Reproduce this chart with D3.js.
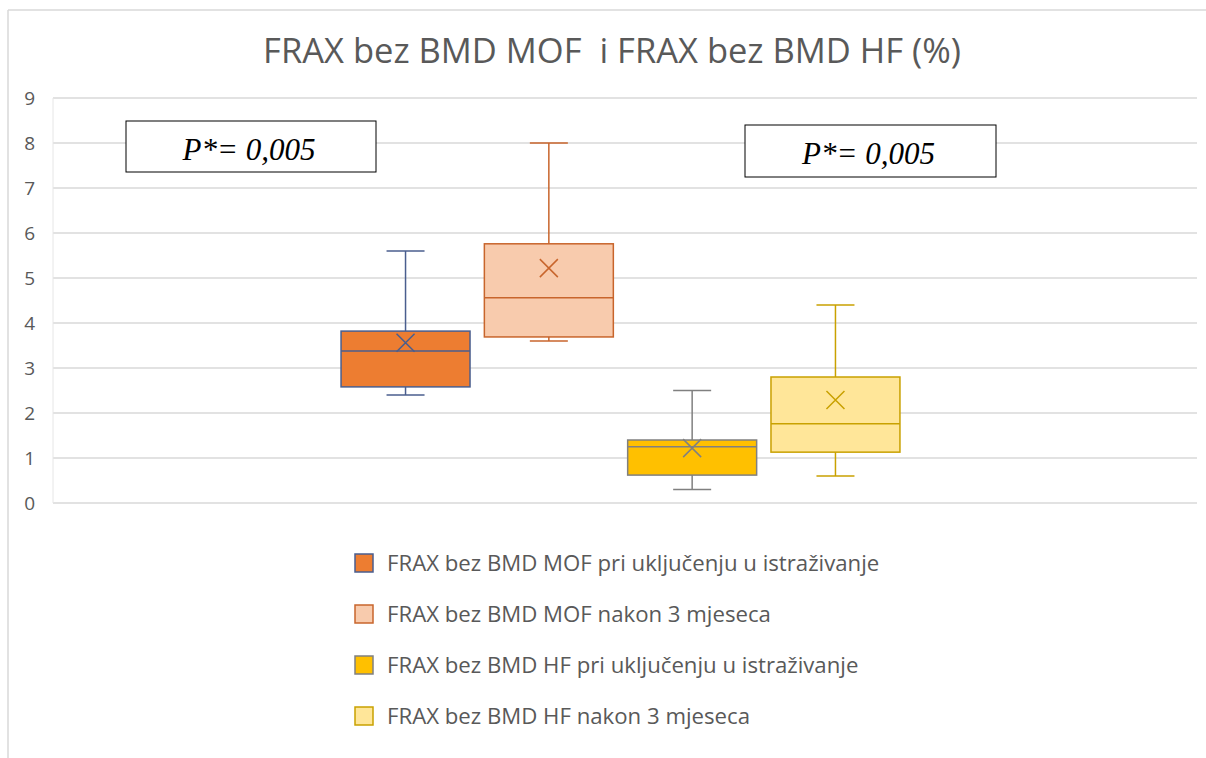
<!DOCTYPE html>
<html>
<head>
<meta charset="utf-8">
<script src="https://cdn.jsdelivr.net/npm/d3@7"></script>
<style>
  body { margin: 0; background: #fff; }
</style>
</head>
<body>
<script>
// Box plot data
const category = "FRAX";
const seriesNames = [
  "FRAX bez BMD MOF pri uključenju u istraživanje",
  "FRAX bez BMD MOF nakon 3 mjeseca",
  "FRAX bez BMD HF pri uključenju u istraživanje",
  "FRAX bez BMD HF nakon 3 mjeseca"
];
const minVals = [2.4, 3.6, 0.3, 0.6];
const q1Vals = [2.58, 3.69, 0.62, 1.13];
const medianVals = [3.38, 4.56, 1.25, 1.76];
const q3Vals = [3.82, 5.76, 1.4, 2.8];
const maxVals = [5.6, 8.0, 2.5, 4.4];
const meanVals = [3.56, 5.22, 1.22, 2.29];
const yTicks = [0, 1, 2, 3, 4, 5, 6, 7, 8, 9];
const pLabels = ["P*= 0,005", "P*= 0,005"];

const fills = ["#ED7D31", "#F8CBAD", "#FFC000", "#FFE699"];
const strokes = ["#4A5E8E", "#C8652C", "#808080", "#C9A100"];

const width = 1206, height = 758;
const plot = { left: 53, right: 1197, top: 98, bottom: 503 };

const svg = d3.select("body").append("svg")
  .attr("width", width)
  .attr("height", height)
  .style("font-family", "'Open Sans', sans-serif");

// chart frame (top and left edges visible)
svg.append("line").attr("x1", 8).attr("x2", width).attr("y1", 10).attr("y2", 10)
  .attr("stroke", "#D9D9D9").attr("stroke-width", 1.5);
svg.append("line").attr("x1", 8).attr("x2", 8).attr("y1", 10).attr("y2", height)
  .attr("stroke", "#D9D9D9").attr("stroke-width", 1.5);

// title
svg.append("text")
  .attr("x", 612)
  .attr("y", 63)
  .attr("text-anchor", "middle")
  .style("font-size", "34.5px")
  .style("fill", "#595959")
  .style("white-space", "pre")
  .attr("xml:space", "preserve")
  .text("FRAX bez BMD MOF  i FRAX bez BMD HF (%)");

const y = d3.scaleLinear().domain([0, 9]).range([plot.bottom, plot.top]);

const x0 = d3.scaleBand().domain([category])
  .range([plot.left, plot.right - 9]).paddingInner(0).paddingOuter(0.49);
const x1 = d3.scaleBand().domain(seriesNames)
  .range([0, x0.bandwidth()]).paddingInner(0.1).paddingOuter(0.05);

// gridlines
svg.append("g")
  .selectAll("line")
  .data(yTicks)
  .join("line")
  .attr("x1", plot.left).attr("x2", plot.right)
  .attr("y1", d => y(d)).attr("y2", d => y(d))
  .attr("stroke", "#D9D9D9").attr("stroke-width", 1.5);
svg.append("line")
  .attr("x1", plot.left).attr("x2", plot.left)
  .attr("y1", y(9)).attr("y2", y(0))
  .attr("stroke", "#E6E6E6").attr("stroke-width", 1);

// y axis labels
const yAxis = svg.append("g")
  .attr("transform", `translate(${plot.left - 18},0)`)
  .call(d3.axisLeft(y).tickValues(yTicks).tickSize(0).tickPadding(0));
yAxis.select(".domain").remove();
yAxis.selectAll("text")
  .style("font-size", "19px")
  .style("font-family", "'Open Sans', sans-serif")
  .style("fill", "#595959");

// boxes
const boxes = svg.append("g")
  .attr("transform", `translate(${x0(category)},0)`)
  .selectAll("g.box")
  .data(seriesNames)
  .join("g")
  .attr("class", "box");

const bw = x1.bandwidth();
const capW = 38;

boxes.each(function (name, i) {
  const g = d3.select(this);
  const cx = x1(name) + bw / 2;
  const st = strokes[i];
  // whiskers
  g.append("line").attr("x1", cx).attr("x2", cx)
    .attr("y1", y(maxVals[i])).attr("y2", y(q3Vals[i]))
    .attr("stroke", st).attr("stroke-width", 1.5);
  g.append("line").attr("x1", cx).attr("x2", cx)
    .attr("y1", y(q1Vals[i])).attr("y2", y(minVals[i]))
    .attr("stroke", st).attr("stroke-width", 1.5);
  g.append("line").attr("x1", cx - capW / 2).attr("x2", cx + capW / 2)
    .attr("y1", y(maxVals[i])).attr("y2", y(maxVals[i]))
    .attr("stroke", st).attr("stroke-width", 1.5);
  g.append("line").attr("x1", cx - capW / 2).attr("x2", cx + capW / 2)
    .attr("y1", y(minVals[i])).attr("y2", y(minVals[i]))
    .attr("stroke", st).attr("stroke-width", 1.5);
  // box
  g.append("rect")
    .attr("x", x1(name))
    .attr("y", y(q3Vals[i]))
    .attr("width", bw)
    .attr("height", y(q1Vals[i]) - y(q3Vals[i]))
    .attr("fill", fills[i])
    .attr("stroke", st)
    .attr("stroke-width", 1.5);
  // median
  g.append("line")
    .attr("x1", x1(name)).attr("x2", x1(name) + bw)
    .attr("y1", y(medianVals[i])).attr("y2", y(medianVals[i]))
    .attr("stroke", st).attr("stroke-width", 1.5);
  // mean marker
  const my = y(meanVals[i]);
  const s = 9;
  g.append("path")
    .attr("d", `M${cx - s},${my - s}L${cx + s},${my + s}M${cx - s},${my + s}L${cx + s},${my - s}`)
    .attr("stroke", st).attr("stroke-width", 1.5).attr("fill", "none");
});

// p-value annotations
const pBoxes = [
  { x: 126, y: 121, w: 250, h: 51 },
  { x: 745, y: 125, w: 251, h: 52 }
];
pLabels.forEach((t, i) => {
  const b = pBoxes[i];
  svg.append("rect")
    .attr("x", b.x).attr("y", b.y).attr("width", b.w).attr("height", b.h)
    .attr("fill", "#fff").attr("stroke", "#000").attr("stroke-width", 1);
  svg.append("text")
    .attr("x", b.x + b.w / 2 - 2)
    .attr("y", b.y + 39)
    .attr("text-anchor", "middle")
    .style("font-family", "'Liberation Serif', 'Times New Roman', serif")
    .style("font-style", "italic")
    .style("font-size", "31px")
    .style("fill", "#000")
    .text(t);
});

// legend
const legend = svg.append("g").attr("transform", "translate(355,563)");
seriesNames.forEach((name, i) => {
  const row = legend.append("g").attr("transform", `translate(0,${i * 51})`);
  row.append("rect")
    .attr("x", 0).attr("y", -9).attr("width", 18).attr("height", 18)
    .attr("fill", fills[i]).attr("stroke", strokes[i]).attr("stroke-width", 1.5);
  row.append("text")
    .attr("x", 32).attr("y", 0).attr("dy", "0.35em")
    .style("font-size", "22.2px")
    .style("fill", "#595959")
    .text(name);
});
</script>
</body>
</html>
